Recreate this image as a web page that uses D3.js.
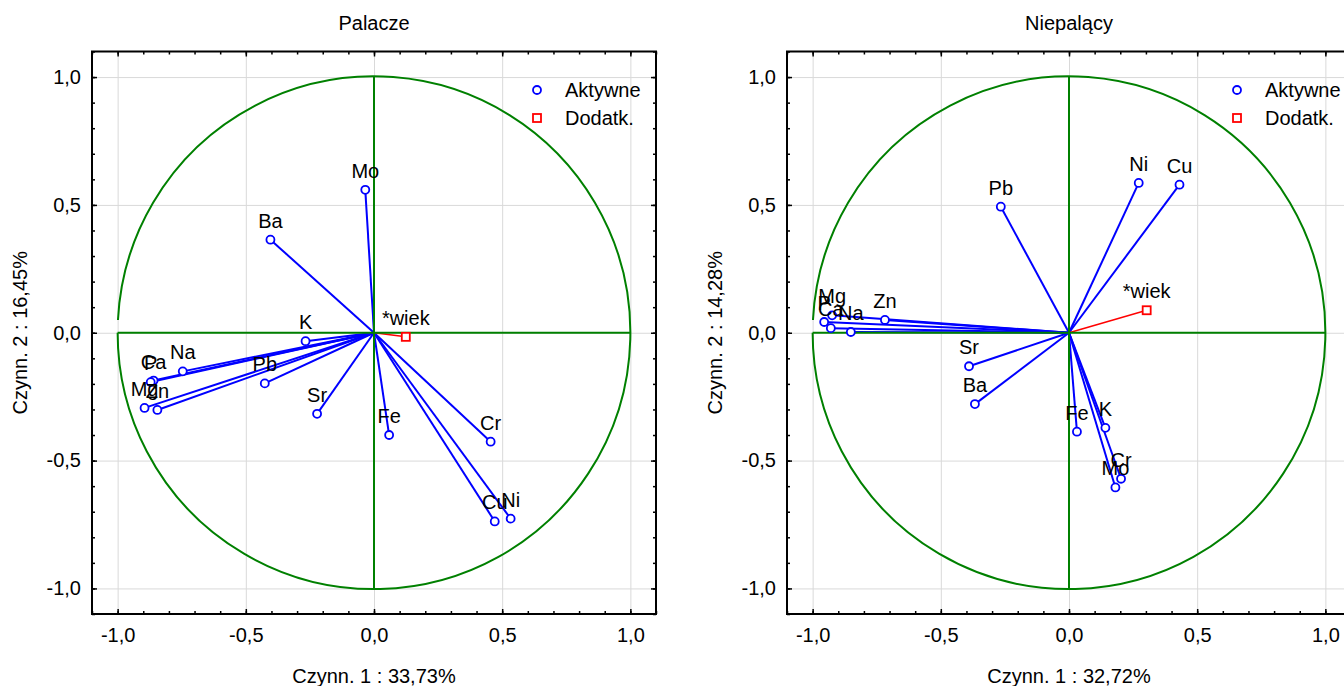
<!DOCTYPE html>
<html>
<head>
<meta charset="utf-8">
<script src="https://cdn.jsdelivr.net/npm/d3@7"></script>
<style>
    body { margin: 0; background: #fff; }
    svg { display: block; }
    text { font-family: "Liberation Sans", Arial, sans-serif; fill: #000; }
    .grid line { stroke: #d9d9d9; stroke-width: 1; }
</style>
</head>
<body>
<svg id="chart" width="1344" height="686"></svg>
<script>
/* variables (active) */
const variables = ["Mg", "Ca", "P", "Na", "K", "Zn", "Fe", "Cu", "Ni", "Cr", "Mo", "Ba", "Sr", "Pb"];

/* Palacze - factor coordinates */
const smokersF1 = [-0.895, -0.860, -0.871, -0.746, -0.267, -0.845, 0.059, 0.471, 0.533, 0.455, -0.034, -0.404, -0.222, -0.426];
const smokersF2 = [-0.294, -0.187, -0.193, -0.151, -0.033, -0.302, -0.400, -0.738, -0.727, -0.426, 0.559, 0.364, -0.317, -0.198];

/* Niepalący - factor coordinates */
const nonSmokersF1 = [-0.924, -0.929, -0.955, -0.851, 0.142, -0.718, 0.031, 0.431, 0.272, 0.203, 0.181, -0.367, -0.390, -0.266];
const nonSmokersF2 = [0.068, 0.018, 0.042, 0.003, -0.372, 0.050, -0.387, 0.579, 0.586, -0.571, -0.605, -0.279, -0.131, 0.493];

/* supplementary variable */
const supplementary = ["*wiek"];
const smokersSuppF1 = [0.124];
const smokersSuppF2 = [-0.016];
const nonSmokersSuppF1 = [0.303];
const nonSmokersSuppF2 = [0.088];

const tickValues = [-1, -0.5, 0, 0.5, 1];
const minorTickValues = d3.range(-11, 12).map(d => d / 10);
const legendLabels = ["Aktywne", "Dodatk."];

const panels = [
    { title: "Palacze", xTitle: "Czynn. 1 : 33,73%", yTitle: "Czynn. 2 : 16,45%",
      f1: smokersF1, f2: smokersF2, s1: smokersSuppF1, s2: smokersSuppF2, left: 92, legendX: 445 },
    { title: "Niepalący", xTitle: "Czynn. 1 : 32,72%", yTitle: "Czynn. 2 : 14,28%",
      f1: nonSmokersF1, f2: nonSmokersF2, s1: nonSmokersSuppF1, s2: nonSmokersSuppF2, left: 787, legendX: 450 }
];

const locale = d3.formatLocale({ decimal: ",", thousands: " ", grouping: [3], currency: ["", ""], minus: "-" });
const fmt = locale.format(".1f");

const plotTop = 51.5;
const width = 564;
const height = 562.5;
const fontSize = "20px";
const svg = d3.select("#chart");

panels.forEach(p => {
    const g = svg.append("g").attr("transform", `translate(${p.left},${plotTop})`);

    const xScale = d3.scaleLinear().domain([-1.1, 1.1]).range([0, width]);
    const yScale = d3.scaleLinear().domain([-1.1, 1.1]).range([height, 0]);

    /* grid */
    g.append("g").attr("class", "grid")
        .attr("transform", `translate(0,${height})`)
        .call(d3.axisBottom(xScale).tickValues(tickValues).tickSize(-height).tickFormat(""))
        .call(a => a.select(".domain").remove());
    g.append("g").attr("class", "grid")
        .call(d3.axisLeft(yScale).tickValues(tickValues).tickSize(-width).tickFormat(""))
        .call(a => a.select(".domain").remove());

    /* inward ticks on all four sides */
    const tickSets = [
        [d3.axisBottom, `translate(0,${height})`, xScale],
        [d3.axisTop, "translate(0,0)", xScale],
        [d3.axisLeft, "translate(0,0)", yScale],
        [d3.axisRight, `translate(${width},0)`, yScale]
    ];
    tickSets.forEach(([axisFn, tr, sc]) => {
        g.append("g").attr("class", "tk").attr("transform", tr)
            .call(axisFn(sc).tickValues(minorTickValues).tickSize(-3).tickFormat(""))
            .call(a => a.select(".domain").remove());
        g.append("g").attr("class", "tk").attr("transform", tr)
            .call(axisFn(sc).tickValues(tickValues).tickSize(-5).tickFormat(""))
            .call(a => a.select(".domain").remove());
    });
    g.selectAll(".tk line").attr("stroke", "#000").attr("stroke-width", 1.5);

    /* tick labels */
    g.append("g")
        .attr("transform", `translate(0,${height})`)
        .call(d3.axisBottom(xScale).tickValues(tickValues).tickSize(0).tickPadding(14).tickFormat(fmt))
        .call(a => a.select(".domain").remove());
    g.append("g")
        .call(d3.axisLeft(yScale).tickValues(tickValues).tickSize(0).tickPadding(11).tickFormat(fmt))
        .call(a => a.select(".domain").remove());
    g.selectAll(".tick text").attr("font-family", null).attr("font-size", null).style("font-size", fontSize);

    /* correlation circle */
    const green = "#008000";
    const r = xScale(1) - xScale(0);
    const circlePath = d3.path();
    circlePath.arc(xScale(0), yScale(0), r, Math.PI + 0.05, Math.PI, false);
    g.append("path").attr("d", circlePath.toString())
        .attr("fill", "none").attr("stroke", green).attr("stroke-width", 2);

    /* vectors */
    const active = variables.map((v, i) => ({ name: v, x: p.f1[i], y: p.f2[i] }));
    const supp = supplementary.map((v, i) => ({ name: v, x: p.s1[i], y: p.s2[i] }));

    g.selectAll(".vec").data(active).enter().append("line")
        .attr("x1", xScale(0)).attr("y1", yScale(0))
        .attr("x2", d => xScale(d.x)).attr("y2", d => yScale(d.y))
        .attr("stroke", "#0000ff").attr("stroke-width", 2);
    g.selectAll(".svec").data(supp).enter().append("line")
        .attr("x1", xScale(0)).attr("y1", yScale(0))
        .attr("x2", d => xScale(d.x)).attr("y2", d => yScale(d.y))
        .attr("stroke", "#ff0000").attr("stroke-width", 1.5);

    g.append("line")
        .attr("x1", xScale(-1)).attr("x2", xScale(1)).attr("y1", yScale(0)).attr("y2", yScale(0))
        .attr("stroke", green).attr("stroke-width", 2);
    g.append("line")
        .attr("x1", xScale(0)).attr("x2", xScale(0)).attr("y1", yScale(-1)).attr("y2", yScale(1))
        .attr("stroke", green).attr("stroke-width", 2);

    g.selectAll(".pt").data(active).enter().append("circle")
        .attr("cx", d => xScale(d.x)).attr("cy", d => yScale(d.y)).attr("r", 4)
        .attr("fill", "#fff").attr("stroke", "#0000ff").attr("stroke-width", 1.8);
    g.selectAll(".spt").data(supp).enter().append("rect")
        .attr("x", d => xScale(d.x) - 4).attr("y", d => yScale(d.y) - 4)
        .attr("width", 8).attr("height", 8)
        .attr("fill", "#fff").attr("stroke", "#ff0000").attr("stroke-width", 1.8);

    /* point labels */
    g.selectAll(".lbl").data(active.concat(supp)).enter().append("text")
        .attr("x", d => xScale(d.x)).attr("y", d => yScale(d.y) - 12)
        .attr("text-anchor", "middle").style("font-size", fontSize)
        .text(d => d.name);

    /* legend */
    const lg = g.append("g").attr("transform", `translate(${p.legendX},0)`);
    lg.append("circle").attr("cx", 0).attr("cy", 38.5).attr("r", 4)
        .attr("fill", "#fff").attr("stroke", "#0000ff").attr("stroke-width", 1.8);
    lg.append("rect").attr("x", -4).attr("y", 62.5).attr("width", 8).attr("height", 8)
        .attr("fill", "#fff").attr("stroke", "#ff0000").attr("stroke-width", 1.8);
    lg.selectAll(".lt").data(legendLabels).enter().append("text")
        .attr("x", 28).attr("y", (d, i) => 45.5 + i * 28)
        .style("font-size", fontSize).text(d => d);

    /* frame */
    g.append("rect").attr("width", width).attr("height", height)
        .attr("fill", "none").attr("stroke", "#000").attr("stroke-width", 2);

    /* titles */
    g.append("text").attr("x", width / 2).attr("y", -22)
        .attr("text-anchor", "middle").style("font-size", fontSize).text(p.title);
    g.append("text").attr("x", width / 2).attr("y", height + 69)
        .attr("text-anchor", "middle").style("font-size", fontSize).text(p.xTitle);
    g.append("text")
        .attr("transform", `translate(${-65},${height / 2}) rotate(-90)`)
        .attr("text-anchor", "middle").style("font-size", fontSize).text(p.yTitle);
});
</script>
</body>
</html>
